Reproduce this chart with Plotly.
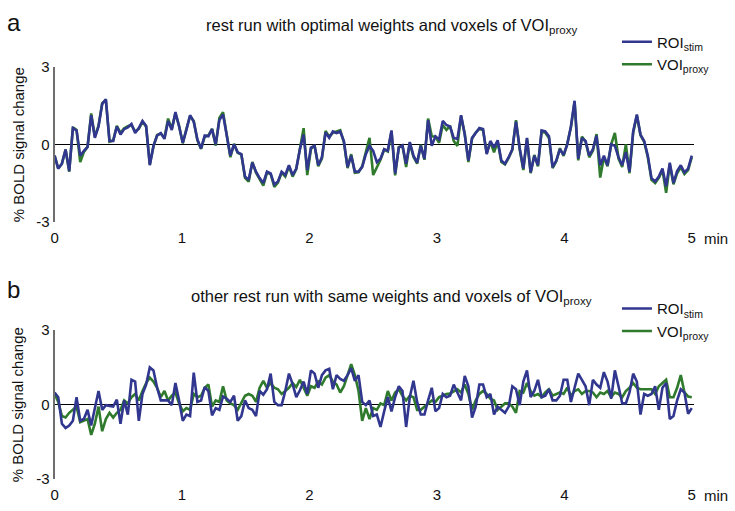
import numpy as np
import plotly.graph_objects as go

# ---------------- data ----------------
n_points = 175
run_minutes = 5.0
time_min = np.arange(n_points) * run_minutes / (n_points - 1)

roi_a = [
    -0.44, -0.94, -0.75, -0.2, -1.04, 0.63, 0.54, -0.44, -0.25, -0.1,
    1.13, 0.25, 0.69, 1.56, 1.75, 0.13, 0.13, 0.69, 0.38, 0.59,
    0.66, 0.79, 0.44, 0.63, 0.91, 0.71, -0.81, -0.06, 0.34, 0.44,
    0.21, 0.91, 0.56, 1.25, 0.69, 0.06, 0.56, 1.13, 0.88, 0.19,
    -0.16, 0.34, 0.31, 0.59, 0.0, 0.94, 1.16, 0.31, -0.44, 0.0,
    -0.31, -0.38, -1.25, -1.38, -0.71, -1.06, -1.31, -1.5, -1.06, -1.13,
    -1.56, -1.44, -1.06, -1.19, -0.81, -1.19, -0.94, -0.19, 0.38, -1.0,
    -0.13, -0.06, -0.81, -0.5, 0.46, 0.25, 0.5, 0.44, 0.5, 0.13,
    -0.88, -0.44, -1.06, -1.06, -0.88, -0.38, -0.06, -0.25,
    -0.69, -0.56, -0.19, -0.25, 0.54, -1.13, -0.13, -0.04, -0.75, 0.09,
    -0.44, -0.71, -0.06, -0.56, 0.94, -0.06, 0.31, 0.19, 0.91, 0.75,
    0.69, 0.25, 0.21, 1.13, 0.38, -0.63, 0.25, 0.44, 0.63, 0.59,
    -0.38, 0.13, -0.13, 0.16, -0.63, -0.75, -0.5, -0.19, 0.88, -0.13,
    -0.94, 0.25, -1.09, -0.44, -0.81, 0.54, 0.5, 0.31, -0.88, -0.63,
    -0.19, -0.41, 0.0, 0.69, 1.69, -0.56, 0.25, 0.13, -0.44, -0.19,
    0.34, -0.81, -0.44, -0.81, 0.0, -0.06, -0.5, -0.81, -0.31, -1.06,
    0.5, 1.16, 0.38, 0.13, -0.44, -1.31, -1.44, -1.25, -0.94, -1.63,
    -0.71, -1.5, -1.04, -0.81, -1.09, -0.94, -0.44,
]

voi_a = [
    -0.44, -0.94, -0.75, -0.2, -1.06, 0.66, 0.56, -0.69, -0.3, -0.1,
    1.2, 0.3, 0.72, 1.6, 1.72, 0.1, 0.15, 0.72, 0.45, 0.62,
    0.7, 0.75, 0.5, 0.6, 0.88, 0.68, -0.78, -0.08, 0.36, 0.42,
    0.25, 1.0, 0.6, 1.2, 0.72, 0.04, 0.6, 1.1, 0.9, 0.15,
    -0.18, 0.3, 0.35, 0.6, -0.05, 1.02, 1.25, 0.35, -0.5, 0.02,
    -0.33, -0.4, -1.3, -1.45, -0.68, -1.1, -1.38, -1.6, -1.1, -1.15,
    -1.65, -1.48, -1.1, -1.25, -0.85, -1.25, -0.96, -0.2, 0.63, -1.19,
    -0.18, -0.04, -0.85, -0.55, 0.52, 0.3, 0.45, 0.5, 0.55, 0.08,
    -0.92, -0.38, -1.1, -1.08, -0.85, -0.3, 0.25, -1.19,
    -0.88, -0.6, -0.2, -0.28, 0.5, -1.2, -0.1, -0.06, -0.88, 0.05,
    -0.48, -0.75, -0.02, -0.6, 1.0, 0.31, 0.3, 0.06, 0.75, 0.56,
    0.72, 0.13, -0.06, 1.1, 0.42, -0.69, 0.22, 0.46, 0.6, 0.55,
    -0.35, 0.1, -0.31, 0.1, -0.68, -0.78, -0.53, -0.22, 0.94, -0.19,
    -1.0, 0.22, -1.12, -0.41, -0.85, 0.5, 0.45, 0.25, -0.92, -0.66,
    -0.15, -0.45, 0.02, 0.66, 1.65, -0.62, 0.3, 0.1, -0.5, -0.25,
    0.4, -1.29, -0.5, -0.85, 0.0, 0.44, -0.55, -0.88, 0.0, -1.12,
    0.45, 1.12, 0.35, 0.1, -0.5, -1.38, -1.5, -1.3, -1.0, -1.88,
    -0.78, -1.55, -1.12, -0.88, -1.15, -1.0, -0.5,
]

roi_b = [
    0.48, 0.29, -0.78, -0.95, -0.85, -0.66, 0.29, -0.66, -0.59, -0.22,
    -0.85, -0.09, 0.54, -0.22, -0.03, -0.06, -0.09, 0.19, -0.78, 0.16,
    -0.41, 0.99, 0.92, -0.66, 0.42, 0.80, 1.49, 1.37, 0.67, 0.16,
    0.16, 0.16, -0.03, 0.86, 0.16, -0.66, -0.41, -0.47, 1.28, 0.10,
    0.16, 0.70, 0.54, -0.44, -0.15, -0.22, 0.32, 0.23, 0.10, 0.35,
    -0.66, -0.47, 0.16, -0.15, -0.22, -0.47, 0.54, 0.39, 0.61, 1.24,
    0.10, -0.03, -0.03, 0.54, 1.24, 0.82, 0.29, 0.57, 0.92, 0.42,
    1.37, 1.24, 0.67, 1.18, 1.37, 1.43, 0.61, 1.18, 1.03, 0.95,
    1.18, 1.46, 0.95, 1.18, 0.10, -0.03, 0.16, -0.47,
    -0.41, -0.91, -0.28, 0.29, -0.28, 0.29, 0.73, 0.54, -0.91, 0.29,
    0.95, 0.10, -0.41, -0.41, 0.16, 0.67, -0.28, -0.15, 0.42, 0.29,
    0.35, 0.80, 0.48, 0.16, 1.15, 0.73, -0.53, -0.09, 0.80, 0.80,
    0.29, 0.42, -0.41, -0.09, -0.22, -0.34, -0.09, 0.73, 0.61, -0.03,
    0.92, 1.37, 0.29, 0.54, 0.99, 0.29, 0.35, 0.61, 0.16, 0.16,
    0.35, 0.99, 0.99, 0.10, 0.67, 1.24, 0.99, 0.73, -0.03, 0.99,
    0.80, 0.67, 1.30, 0.92, 0.23, 1.37, 0.73, 0.04, 0.04, 0.48,
    1.24, 0.92, -0.41, 0.42, 0.35, 0.42, 0.73, -0.22, 0.67, 0.86,
    -0.59, -0.47, 0.16, 0.61, 0.48, -0.38, -0.15,
]

voi_b = [
    0.42, 0.10, -0.47, -0.53, -0.34, -0.22, -0.09, -0.72, -0.66, -0.59,
    -1.23, -0.78, -0.09, -1.08, -0.59, -0.34, -0.53, -0.34, -0.22, 0.16,
    0.04, 0.29, 0.42, 0.16, 0.54, 0.86, 1.08, 0.92, 0.67, 0.29,
    0.54, 0.16, 0.35, 0.48, 0.04, -0.28, -0.15, -0.22, 0.42, 0.29,
    0.35, 0.67, 0.80, -0.09, 0.16, 0.10, 0.73, 0.16, 0.04, -0.03,
    -0.22, 0.04, 0.35, 0.42, 0.35, 0.10, 0.67, 0.95, 0.67, 0.86,
    0.67, 0.61, 0.42, 0.54, 0.67, 0.86, 0.70, 0.99, 0.67, 0.35,
    0.73, 0.67, 0.92, 0.80, 1.08, 1.18, 0.92, 0.80, 0.48, 0.73,
    1.18, 1.62, 1.18, 0.54, -0.66, -0.15, -0.59, -0.15,
    -0.22, 0.04, -0.03, 0.54, 0.16, 0.48, 0.61, 0.35, 0.16, 0.35,
    0.29, -0.22, -0.22, -0.09, 0.04, 0.16, 0.10, 0.29, 0.35, 0.42,
    0.44, 0.54, 0.61, 0.48, 0.80, 0.42, -0.22, 0.16, 0.42, 0.54,
    0.42, 0.23, 0.16, -0.22, -0.09, 0.04, 0.04, -0.09, -0.34, 0.54,
    0.48, 0.86, 0.54, 0.35, 0.42, 0.29, 0.48, 0.61, 0.35, 0.42,
    0.48, 0.42, 0.67, 0.35, 0.54, 0.61, 0.42, 0.54, 0.54, 0.48,
    0.29, 0.48, 0.42, 0.54, 0.29, 0.48, 0.42, 0.29, 0.54, 0.67,
    0.86, 0.67, 0.61, 0.61, 0.61, 0.61, 0.42, 0.73, 0.86, 0.99,
    0.29, 0.29, 0.67, 1.18, 0.48, 0.32, 0.29,
]

x_ticks = [0, 1, 2, 3, 4, 5]
y_ticks = [3, 0, -3]
y_ticktext = ["3", "0", "-3"]

panel_titles = [
    "rest run with optimal weights and voxels of VOI<sub>proxy</sub>",
    "other rest run with same weights and voxels of VOI<sub>proxy</sub>",
]
panel_letters = ["a", "b"]
roi_name = "ROI<sub>stim</sub>"
voi_name = "VOI<sub>proxy</sub>"
y_title = "% BOLD signal change"

# ---------------- styling ----------------
W, H = 735, 511
BLUE = "#31378f"
GREEN = "#2f7a2c"
FONT = "Liberation Sans"
TXT = "#111111"

def px_x(p):
    return p / W

def px_y(p):
    return 1 - p / H

fig = go.Figure()

panels = [
    dict(roi=roi_a, voi=voi_a, xa="x", ya="y", legend="legend"),
    dict(roi=roi_b, voi=voi_b, xa="x2", ya="y2", legend="legend2"),
]
for p in panels:
    fig.add_trace(go.Scatter(x=time_min, y=p["voi"], mode="lines", name=voi_name,
                             line=dict(color=GREEN, width=2.6), xaxis=p["xa"], yaxis=p["ya"],
                             legend=p["legend"], legendrank=2))
    fig.add_trace(go.Scatter(x=time_min, y=p["roi"], mode="lines", name=roi_name,
                             line=dict(color=BLUE, width=2.6), xaxis=p["xa"], yaxis=p["ya"],
                             legend=p["legend"], legendrank=1))

x_dom = [px_x(51), px_x(696)]
xa_common = dict(range=[0, 5.02], domain=x_dom, showgrid=False, zeroline=False,
                 showline=False, ticks="", tickvals=x_ticks, ticklabelstandoff=5,
                 tickfont=dict(size=15, color=TXT, family=FONT))
ya_common = dict(range=[-3, 3], showgrid=False, zeroline=True, zerolinecolor="black",
                 zerolinewidth=1.3, showline=True, linecolor="#6e6e6e", linewidth=2,
                 ticks="", tickvals=y_ticks, ticktext=y_ticktext,
                 tickfont=dict(size=15, color=TXT, family=FONT))

fig.update_layout(
    width=W, height=H,
    margin=dict(l=0, r=0, t=0, b=0),
    paper_bgcolor="white", plot_bgcolor="white",
    font=dict(family=FONT, size=15, color=TXT),
    xaxis=dict(xa_common, anchor="y"),
    yaxis=dict(ya_common, domain=[px_y(220), px_y(60)], anchor="x"),
    xaxis2=dict(xa_common, anchor="y2"),
    yaxis2=dict(ya_common, domain=[px_y(486), px_y(332)], anchor="x2"),
    legend=dict(x=px_x(618), y=px_y(17), xanchor="left", yanchor="top",
                font=dict(size=15, family=FONT, color=TXT), bgcolor="rgba(0,0,0,0)",
                traceorder="normal"),
    legend2=dict(x=px_x(618), y=px_y(293), xanchor="left", yanchor="top",
                 font=dict(size=15, family=FONT, color=TXT), bgcolor="rgba(0,0,0,0)",
                 traceorder="normal"),
    showlegend=True,
)

annotations = []
title_y = [18, 298]
letter_y = [14, 290]
ycenter = [140, 409]
min_y = [237, 503]
for i in range(2):
    annotations.append(dict(text=panel_titles[i], x=px_x(391), y=px_y(title_y[i]),
                            xref="paper", yref="paper", showarrow=False,
                            xanchor="center", yanchor="middle",
                            font=dict(size=16.5, family=FONT, color=TXT)))
    annotations.append(dict(text=panel_letters[i], x=px_x(1), y=px_y(letter_y[i]),
                            xref="paper", yref="paper", showarrow=False,
                            xanchor="left", yanchor="middle",
                            font=dict(size=24, family=FONT, color=TXT)))
    annotations.append(dict(text=y_title, x=px_x(14), y=px_y(ycenter[i]),
                            xref="paper", yref="paper", showarrow=False, textangle=-90,
                            xanchor="center", yanchor="middle",
                            font=dict(size=15, family=FONT, color=TXT)))
    annotations.append(dict(text="min", x=px_x(704), y=px_y(min_y[i]),
                            xref="paper", yref="paper", showarrow=False,
                            xanchor="left", yanchor="middle",
                            font=dict(size=15, family=FONT, color=TXT)))
fig.update_layout(annotations=annotations)

fig.write_html(
    "out.html",
    config={"displayModeBar": False},
    post_script="document.body.style.margin='0';document.body.style.padding='0';"
                "document.documentElement.style.overflow='hidden';",
)
